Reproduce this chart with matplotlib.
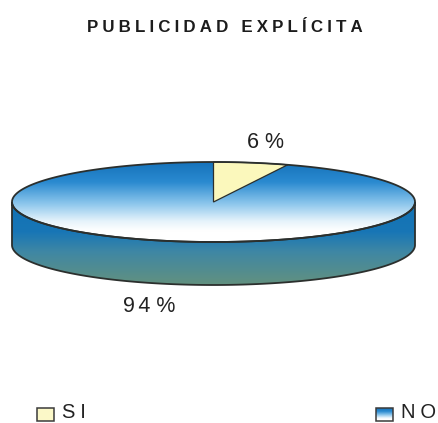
import numpy as np
import matplotlib
matplotlib.use("Agg")
import matplotlib.pyplot as plt
from matplotlib.colors import LinearSegmentedColormap
from matplotlib.patches import Polygon, Rectangle

plt.rcParams["font.family"] = ["Liberation Sans", "DejaVu Sans"]

title = "PUBLICIDAD EXPLÍCITA"
categories = ["SI", "NO"]
shares = [6, 94]
labels = ["6 %", "94 %"]

HS = "\u200a"


def spaced(s, n=2):
    # matplotlib has no letter spacing, so pad with hair spaces
    return (HS * n).join(s)


fig = plt.figure(figsize=(4.39, 4.23), dpi=100, facecolor="white")
ax = fig.add_axes([0, 0, 1, 1])
ax.set_xlim(0, 439)
ax.set_ylim(423, 0)
ax.axis("off")

cx, cy = 213.5, 202
a, b = 201.5, 40
depth = 43

top_cmap = LinearSegmentedColormap.from_list("top", [(0, "#1673bb"), (0.25, "#2a8ad0"), (0.52, "#8cc6ec"), (0.74, "#e6f3fb"), (0.86, "#ffffff"), (1, "#ffffff")])
side_cmap = LinearSegmentedColormap.from_list("side", [(0, "#1272b4"), (0.36, "#1876b6"), (0.6, "#3f87a4"), (1, "#62917f")])
edge = "#2b2f2d"

# clockwise from the top of the ellipse
t = np.linspace(0, 2 * np.pi, 721)
ex = cx + a * np.sin(t)
ey = cy - b * np.cos(t)

# side wall: front half of the ellipse pushed down by the depth
f = np.linspace(np.pi / 2, 3 * np.pi / 2, 361)
fx = cx + a * np.sin(f)
fy = cy - b * np.cos(f)
side_xy = np.r_[np.c_[fx, fy], np.c_[fx[::-1], fy[::-1] + depth]]
side = Polygon(side_xy, closed=True, fc="none", ec=edge, lw=1.3, zorder=3)
ax.add_patch(side)
im = ax.imshow(np.linspace(0, 1, 256).reshape(-1, 1), cmap=side_cmap, aspect="auto",
               extent=[cx - a, cx + a, cy + b + depth, cy], zorder=1)
im.set_clip_path(side)

# top face
top = Polygon(np.c_[ex, ey], closed=True, fc="none", ec=edge, lw=1.3, zorder=5)
ax.add_patch(top)
im2 = ax.imshow(np.linspace(0, 1, 256).reshape(-1, 1), cmap=top_cmap, aspect="auto",
                extent=[cx - a, cx + a, cy + b, cy - b], zorder=2)
im2.set_clip_path(top)

# SI slice, angle taken from its share
ang = np.linspace(0, 2 * np.pi * shares[0] / sum(shares), 60)
wx = cx + a * np.sin(ang)
wy = cy - b * np.cos(ang)
ax.add_patch(Polygon(np.r_[[[cx, cy]], np.c_[wx, wy]], closed=True, fc="#fbf8bc", ec=edge, lw=0.9, zorder=4))

ax.text(224.5, 27, spaced(title, 3), ha="center", va="center", fontsize=12.2, fontweight="bold", color="#1c1c1c")
ax.text(266, 142, labels[0], ha="center", va="center", fontsize=15.5, color="#222222")
ax.text(149.5, 307, spaced(labels[1][:2], 2) + labels[1][2:], ha="center", va="center", fontsize=15.5, color="#222222")

# legend
ax.add_patch(Rectangle((37, 408), 17, 13, fc="#fbf8c8", ec="#3a3a3a", lw=1.1, zorder=3))
ax.text(62, 412, spaced(categories[0], 3), ha="left", va="center", fontsize=14.5, color="#222222")
ax.add_patch(Rectangle((376, 408), 17, 13, fc="none", ec="#3a3a3a", lw=1.1, zorder=3))
ax.imshow(np.linspace(0, 1, 64).reshape(-1, 1), cmap=top_cmap, aspect="auto",
          extent=[376, 393, 421, 408], zorder=2)
ax.text(401, 412, spaced(categories[1], 3), ha="left", va="center", fontsize=14.5, color="#222222")

ax.set_xlim(0, 439)
ax.set_ylim(423, 0)

fig.savefig("out.png", dpi=100, facecolor="white")
